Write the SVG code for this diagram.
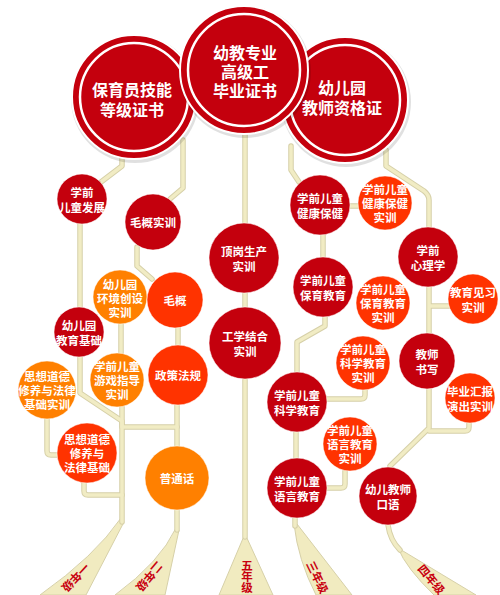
<svg xmlns="http://www.w3.org/2000/svg" width="500" height="595" viewBox="0 0 500 595">
<style>
.ln{fill:none;stroke:#d6d0a8;stroke-width:5.5;stroke-linecap:round;stroke-linejoin:round}
.li{fill:none;stroke:#f1ecc4;stroke-width:3.5;stroke-linecap:round;stroke-linejoin:round}
.beam{fill:#f1ebc0;stroke:#d6d0a8;stroke-width:1}
.d{fill:#c4000d;stroke:#fff;stroke-opacity:.5;stroke-width:1}
.r{fill:#ff3300;stroke:#fff;stroke-opacity:.5;stroke-width:1}
.o{fill:#ff8000;stroke:#fff;stroke-opacity:.5;stroke-width:1}
.big{fill:#c4000d;stroke:#fff;stroke-width:2}
.ring{fill:none;stroke:#fff;stroke-width:2.5}
.sh{fill:#000;fill-opacity:.12}
text{font-family:"Noto Sans CJK SC","Noto Sans",sans-serif;font-weight:bold;text-anchor:middle;dominant-baseline:central}
.t{fill:#fff;font-size:11.5px}
.tb{fill:#fff;font-size:16px}
.g{fill:#c8000f;font-size:11.5px}
</style>
<rect width="500" height="595" fill="#fff"/>
<g id="connectors">
<path id="beams" class="beam" d="M121,518 L124,522 L86,595 L40,595 Q95,556 121,518 Z M176,528 L179,530 L165,595 L115,595 Q160,562 176,528 Z M244,536 L246,536 L273,595 L219,595 Z M294,524 L297,524 L352,595 L316,595 Q298,560 294,524 Z M398,548 L476,595 L434,595 Q406,568 398,548 Z"/>
<g class="ln">
<path d="M122,157 V166 L101,182"/><path d="M183,140 V188 L170,199"/><path d="M80,224 V307"/>
<path d="M80,357 V393 L122,421 V522"/><path d="M137,247 V266 L152,279"/><path d="M121,324 V353 M122,407 V427 H177"/>
<path d="M178,328 V345"/><path d="M177,405 V446"/><path d="M47,418 V451 Q47,455 51,455 H58"/>
<path d="M84,483 V491 Q84,495 88,495 H122"/><path d="M177,510 V530"/>
<path d="M245,134 V223"/><path d="M245,292 V308"/><path d="M245,380 V537"/>
<path d="M291,146 V170 L299,182"/><path d="M386,150 V166 L424,191 Q429,195 429,200 V227"/>
<path d="M350,206 H359"/><path d="M323,235 V257"/><path d="M325,317 V326 L297,342 V372"/>
<path d="M429,287 V333 M429,306 H449"/><path d="M429,389 V428 L390,466"/><path d="M429,431 H465 Q469,431 469,427 V423"/>
<path d="M365,390 V395 Q365,399 361,399 H327"/><path d="M296,432 V458"/><path d="M345,471 V484 Q345,488 341,488 H327"/>
<path d="M295,518 V526"/><path d="M388,525 Q390,540 400,550"/>
</g>
<g class="li">
<path d="M122,157 V166 L101,182"/><path d="M183,140 V188 L170,199"/><path d="M80,224 V307"/>
<path d="M80,357 V393 L122,421 V522"/><path d="M137,247 V266 L152,279"/><path d="M121,324 V353 M122,407 V427 H177"/>
<path d="M178,328 V345"/><path d="M177,405 V446"/><path d="M47,418 V451 Q47,455 51,455 H58"/>
<path d="M84,483 V491 Q84,495 88,495 H122"/><path d="M177,510 V530"/>
<path d="M245,134 V223"/><path d="M245,292 V308"/><path d="M245,380 V537"/>
<path d="M291,146 V170 L299,182"/><path d="M386,150 V166 L424,191 Q429,195 429,200 V227"/>
<path d="M350,206 H359"/><path d="M323,235 V257"/><path d="M325,317 V326 L297,342 V372"/>
<path d="M429,287 V333 M429,306 H449"/><path d="M429,389 V428 L390,466"/><path d="M429,431 H465 Q469,431 469,427 V423"/>
<path d="M365,390 V395 Q365,399 361,399 H327"/><path d="M296,432 V458"/><path d="M345,471 V484 Q345,488 341,488 H327"/>
<path d="M295,518 V526"/><path d="M388,525 Q390,540 400,550"/>
</g>
<g id="grade-labels">
<g transform="translate(76,578) rotate(133)"><text class="g">一年级</text></g>
<g transform="translate(150,577) rotate(130)"><text class="g">二年级</text></g>
<g transform="translate(247,576)"><text class="g" y="-11">五</text><text class="g" y="0">年</text><text class="g" y="11">级</text></g>
<g transform="translate(318,577) rotate(64)"><text class="g">三年级</text></g>
<g transform="translate(432,579) rotate(50)"><text class="g">四年级</text></g>
</g>
</g>
<g id="cert-nursery">
<circle class="sh" cx="135" cy="99" r="64"/><circle class="big" cx="134" cy="97" r="62"/><circle class="ring" cx="134" cy="97" r="54"/>
<text class="tb" x="132" y="89">保育员技能</text><text class="tb" x="132" y="109">等级证书</text>
</g>
<g id="cert-teacher">
<circle class="sh" cx="346" cy="102" r="65"/><circle class="big" cx="345" cy="100" r="63"/><circle class="ring" cx="345" cy="100" r="55"/>
<text class="tb" x="342" y="87">幼儿园</text><text class="tb" x="342" y="107">教师资格证</text>
</g>
<g id="cert-diploma">
<circle class="sh" cx="245" cy="72" r="66"/><circle class="big" cx="244" cy="70" r="64"/><circle class="ring" cx="244" cy="70" r="56"/>
<text class="tb" x="245" y="52">幼教专业</text><text class="tb" x="245" y="71">高级工</text><text class="tb" x="245" y="90">毕业证书</text>
</g>
<g id="n-xqetfz"><circle class="d" cx="82" cy="199" r="25"/><text class="t" x="82" y="192">学前</text><text class="t" x="82" y="207">儿童发展</text></g>
<g id="n-mgsx"><circle class="d" cx="153" cy="222" r="28"/><text class="t" x="153" y="222">毛概实训</text></g>
<g id="n-hjcs"><circle class="o" cx="120" cy="297" r="27"/><text class="t" x="120" y="284">幼儿园</text><text class="t" x="120" y="298">环境创设</text><text class="t" x="120" y="312">实训</text></g>
<g id="n-mg"><circle class="r" cx="175" cy="300" r="28"/><text class="t" x="175" y="300">毛概</text></g>
<g id="n-jyjc"><circle class="d" cx="79" cy="332" r="25"/><text class="t" x="79" y="325">幼儿园</text><text class="t" x="79" y="340">教育基础</text></g>
<g id="n-yxzd"><circle class="o" cx="117" cy="380" r="27"/><text class="t" x="117" y="366">学前儿童</text><text class="t" x="117" y="380">游戏指导</text><text class="t" x="117" y="394">实训</text></g>
<g id="n-zcfg"><circle class="r" cx="178" cy="375" r="30"/><text class="t" x="178" y="375">政策法规</text></g>
<g id="n-sxsx"><circle class="o" cx="47" cy="390" r="29"/><text class="t" x="47" y="376">思想道德</text><text class="t" x="47" y="390">修养与法律</text><text class="t" x="47" y="404">基础实训</text></g>
<g id="n-sxdd"><circle class="r" cx="87" cy="453" r="30"/><text class="t" x="87" y="439">思想道德</text><text class="t" x="87" y="453">修养与</text><text class="t" x="87" y="467">法律基础</text></g>
<g id="n-pth"><circle class="o" cx="177" cy="478" r="32"/><text class="t" x="177" y="478">普通话</text></g>
<g id="n-dgsc"><circle class="d" cx="244" cy="258" r="35"/><text class="t" x="244" y="251">顶岗生产</text><text class="t" x="244" y="266">实训</text></g>
<g id="n-gxjh"><circle class="d" cx="245" cy="343" r="36"/><text class="t" x="245" y="336">工学结合</text><text class="t" x="245" y="351">实训</text></g>
<g id="n-jkbj"><circle class="d" cx="320" cy="205" r="30"/><text class="t" x="320" y="198">学前儿童</text><text class="t" x="320" y="213">健康保健</text></g>
<g id="n-jkbjsx"><circle class="r" cx="385" cy="203" r="27"/><text class="t" x="385" y="189">学前儿童</text><text class="t" x="385" y="203">健康保健</text><text class="t" x="385" y="217">实训</text></g>
<g id="n-xlx"><circle class="d" cx="428" cy="257" r="30"/><text class="t" x="428" y="250">学前</text><text class="t" x="428" y="265">心理学</text></g>
<g id="n-byjy"><circle class="d" cx="323" cy="287" r="30"/><text class="t" x="323" y="280">学前儿童</text><text class="t" x="323" y="295">保育教育</text></g>
<g id="n-byjysx"><circle class="r" cx="383" cy="303" r="27"/><text class="t" x="383" y="289">学前儿童</text><text class="t" x="383" y="303">保育教育</text><text class="t" x="383" y="317">实训</text></g>
<g id="n-jyjx"><circle class="r" cx="473" cy="299" r="25"/><text class="t" x="473" y="292">教育见习</text><text class="t" x="473" y="307">实训</text></g>
<g id="n-jssx"><circle class="d" cx="427" cy="361" r="28"/><text class="t" x="427" y="354">教师</text><text class="t" x="427" y="369">书写</text></g>
<g id="n-kxjysx"><circle class="r" cx="363" cy="363" r="27"/><text class="t" x="363" y="349">学前儿童</text><text class="t" x="363" y="363">科学教育</text><text class="t" x="363" y="377">实训</text></g>
<g id="n-byhb"><circle class="r" cx="470" cy="398" r="25"/><text class="t" x="470" y="391">毕业汇报</text><text class="t" x="470" y="406">演出实训</text></g>
<g id="n-kxjy"><circle class="d" cx="297" cy="402" r="30"/><text class="t" x="297" y="395">学前儿童</text><text class="t" x="297" y="410">科学教育</text></g>
<g id="n-yyjysx"><circle class="r" cx="350" cy="444" r="27"/><text class="t" x="350" y="430">学前儿童</text><text class="t" x="350" y="444">语言教育</text><text class="t" x="350" y="458">实训</text></g>
<g id="n-yyjy"><circle class="d" cx="297" cy="488" r="30"/><text class="t" x="297" y="481">学前儿童</text><text class="t" x="297" y="496">语言教育</text></g>
<g id="n-kyu"><circle class="d" cx="388" cy="496" r="29"/><text class="t" x="388" y="489">幼儿教师</text><text class="t" x="388" y="504">口语</text></g>
</svg>
